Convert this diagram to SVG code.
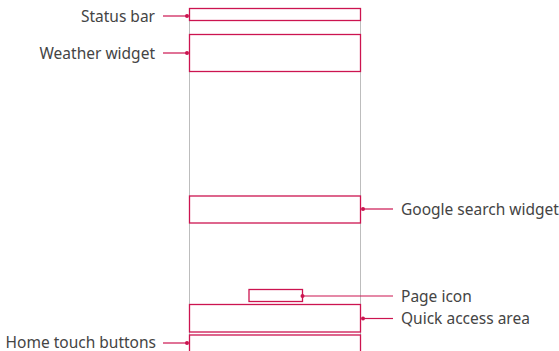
<svg xmlns="http://www.w3.org/2000/svg" width="559" height="351" viewBox="0 0 559 351">
<style>
.box{fill:none;stroke:#cc1450;stroke-width:1.3}
.frame{stroke:#bdbdbd;stroke-width:1;fill:none}
.lead{stroke:#cc1450;stroke-width:1.2;fill:none}
.dot{fill:#cc1450}
text{font-family:"Noto Sans","Open Sans",sans-serif;font-size:15.5px;fill:#444}
.r{text-anchor:end}
</style>
<g id="frame">
<line class="frame" x1="189.5" y1="20" x2="189.5" y2="351"/>
<line class="frame" x1="360.5" y1="20" x2="360.5" y2="351"/>
</g>
<g id="status-bar">
<rect class="box" x="189.5" y="8.5" width="171" height="12"/>
<text class="r" x="155" y="21.5">Status bar</text>
</g>
<g id="weather-widget">
<rect class="box" x="189.5" y="34.5" width="171" height="37"/>
<text class="r" x="155" y="58.5">Weather widget</text>
</g>
<g id="google-search-widget">
<rect class="box" x="189.5" y="196" width="171" height="27"/>
<text x="401" y="214.5">Google search widget</text>
</g>
<g id="page-icon">
<rect class="box" x="249" y="289.5" width="53.5" height="12"/>
<text x="401" y="302">Page icon</text>
</g>
<g id="quick-access-area">
<rect class="box" x="189.5" y="304.5" width="171" height="27.5"/>
<text x="401" y="324">Quick access area</text>
</g>
<g id="home-touch-buttons">
<rect class="box" x="189.5" y="335" width="171" height="20"/>
<text class="r" x="156" y="347.5">Home touch buttons</text>
</g>
<g id="connectors">
<line class="lead" x1="163" y1="16" x2="187" y2="16"/><circle class="dot" cx="187" cy="16" r="2"/>
<line class="lead" x1="163" y1="53" x2="187" y2="53"/><circle class="dot" cx="187" cy="53" r="2"/>
<line class="lead" x1="363" y1="209" x2="393" y2="209"/><circle class="dot" cx="363" cy="209" r="2"/>
<line class="lead" x1="302" y1="296" x2="393" y2="296"/><circle class="dot" cx="302.5" cy="296" r="2"/>
<line class="lead" x1="363" y1="318.5" x2="393" y2="318.5"/><circle class="dot" cx="363" cy="318.5" r="2"/>
<line class="lead" x1="163" y1="343" x2="187" y2="343"/><circle class="dot" cx="187" cy="343" r="2"/>
</g>
</svg>
